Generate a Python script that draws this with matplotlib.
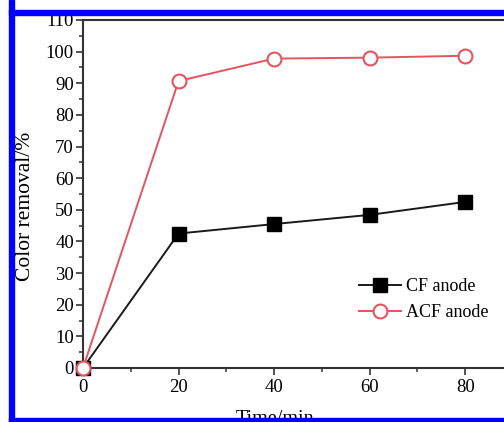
import matplotlib.pyplot as plt
from matplotlib.patches import Rectangle
from matplotlib.ticker import MultipleLocator

plt.rcParams['font.family'] = ['Liberation Serif', 'DejaVu Serif']

# color removal vs electrolysis time
time_min = [0, 20, 40, 60, 80]
cf_removal = [0, 42.5, 45.5, 48.4, 52.5]
acf_removal = [0, 90.7, 97.8, 98.1, 98.7]

W, H = 504, 422
fig = plt.figure(figsize=(W / 100, H / 100), dpi=100, facecolor='w')
# axes run past the right edge of the figure
ax = fig.add_axes([83 / W, (H - 368) / H, 430 / W, 348 / H])

ax.plot(time_min, cf_removal, color='#1a1a1a', lw=1.4, marker='s', ms=10,
        mfc='black', mec='black', label='CF anode', clip_on=False, zorder=3)
ax.plot(time_min, acf_removal, color='#e4545f', lw=1.4, marker='o', ms=10,
        mfc='white', mec='#e4545f', mew=1.5, label='ACF anode', clip_on=False, zorder=4)

ax.set_xlim(0, 90)
ax.set_ylim(0, 110)
ax.xaxis.set_major_locator(MultipleLocator(20))
ax.xaxis.set_minor_locator(MultipleLocator(10))
ax.yaxis.set_major_locator(MultipleLocator(10))
ax.yaxis.set_minor_locator(MultipleLocator(5))
ax.set_xticks([0, 20, 40, 60, 80])
ax.tick_params(which='major', direction='out', length=5, width=1.2, labelsize=13.5, color='#333333')
ax.tick_params(which='minor', direction='out', length=3, width=1.1, color='#333333')
ax.tick_params(axis='y', pad=1.5)
ax.tick_params(axis='x', pad=3)
for s in ax.spines.values():
    s.set_linewidth(1.5)
    s.set_color('#333333')

ax.set_ylabel('Color removal/%', fontsize=15.5, va='center')
ax.yaxis.set_label_coords(-0.133, 0.465)
ax.set_xlabel('Time/min', fontsize=14.5, va='top')
ax.xaxis.set_label_coords(0.447, -0.12)

ax.legend(loc='center left', bbox_to_anchor=(0.643, 0.197), frameon=False,
          fontsize=13, handlelength=2.3, handletextpad=0.3, labelspacing=0.5,
          borderpad=0, borderaxespad=0)

# blue frame on top, left and bottom
blue = '#0000ff'
fig.patches.append(Rectangle((9 / W, 0), 5 / W, 1, transform=fig.transFigure,
                             color=blue, zorder=10))
fig.patches.append(Rectangle((9 / W, 1 - 15 / H), 1, 5 / H, transform=fig.transFigure,
                             color=blue, zorder=10))
fig.patches.append(Rectangle((9 / W, 0), 1, 4 / H, transform=fig.transFigure,
                             color=blue, zorder=10))

fig.savefig('out.png', dpi=100)
